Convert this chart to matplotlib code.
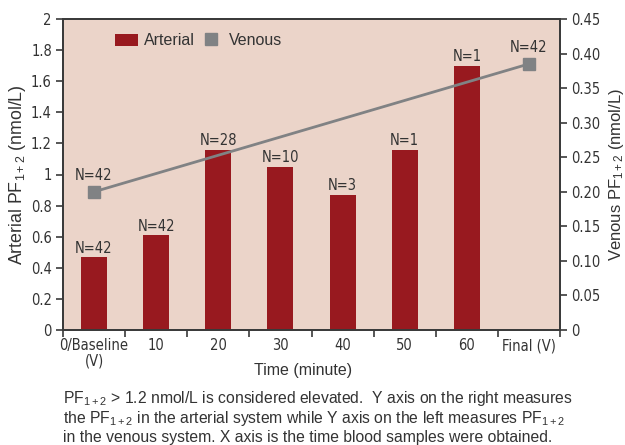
import matplotlib
matplotlib.use("Agg")
import matplotlib.pyplot as plt
from matplotlib.patches import Patch
from matplotlib.lines import Line2D
from matplotlib import font_manager as fm
from matplotlib.font_manager import FontProperties

categories = ["0/Baseline\n(V)", "10", "20", "30", "40", "50", "60", "Final (V)"]
arterial = [0.47, 0.61, 1.16, 1.05, 0.87, 1.16, 1.70, None]
arterial_n = ["N=42", "N=42", "N=28", "N=10", "N=3", "N=1", "N=1", None]
venous_idx = [0, 7]
venous = [0.20, 0.385]
venous_n = ["N=42", "N=42"]
left_ticks = [0, 0.2, 0.4, 0.6, 0.8, 1, 1.2, 1.4, 1.6, 1.8, 2]
left_labels = ["0", "0.2", "0.4", "0.6", "0.8", "1", "1.2", "1.4", "1.6", "1.8", "2"]
right_ticks = [0, 0.05, 0.10, 0.15, 0.20, 0.25, 0.30, 0.35, 0.40, 0.45]
right_labels = ["0", "0.05", "0.10", "0.15", "0.20", "0.25", "0.30", "0.35", "0.40", "0.45"]

# find a condensed / narrow regular font if one is installed
cond_path = None
best = 99
prefs = ["LiberationSansNarrow-Regular", "DejaVuSansCondensed.ttf", "RobotoCondensed-Regular",
         "OpenSans_Condensed-Regular", "OpenSansCondensed", "NotoSans-Condensed.ttf"]
for f in fm.fontManager.ttflist:
    fn = f.fname.split("/")[-1]
    for k, p in enumerate(prefs):
        if p in fn and k < best:
            best = k
            cond_path = f.fname
names = {f.name for f in fm.fontManager.ttflist}
reg = "Liberation Sans" if "Liberation Sans" in names else "DejaVu Sans"
if cond_path is None:
    for f in fm.fontManager.ttflist:
        if f.name == "Roboto" and f.weight in (400, "normal", "regular") and f.style == "normal":
            cond_path = f.fname
            break

def cfp(size):
    if cond_path:
        return FontProperties(fname=cond_path, size=size)
    return FontProperties(family="DejaVu Sans", size=size)

plt.rcParams["font.family"] = [reg, "DejaVu Sans"]
plt.rcParams["mathtext.fontset"] = "custom"
plt.rcParams["mathtext.rm"] = reg
plt.rcParams["mathtext.it"] = reg

BG = "#EBD4C9"
RED = "#98191F"
GRAY = "#808284"
AX = "#3a3a3a"
TXT = "#333333"
TS = 10.5

fig = plt.figure(figsize=(6.25, 4.45), dpi=100)
ax = fig.add_axes([63/625, 1-330/445, 497/625, 311/445])
ax.set_facecolor(BG)
x = list(range(len(categories)))

bx = [i for i, v in enumerate(arterial) if v is not None]
bv = [v for v in arterial if v is not None]
ax.bar(bx, bv, width=0.42, color=RED, zorder=2)
for i, v in zip(bx, bv):
    ax.text(i, v + 0.008, arterial_n[i], ha="center", va="bottom",
            fontproperties=cfp(TS), color=TXT)

ax.set_xlim(-0.5, len(categories) - 0.5)
ax.set_ylim(0, 2)
ax.set_yticks(left_ticks)
ax.set_yticklabels(left_labels, color=TXT)
ax.set_xticks(x)
ax.set_xticklabels(categories, color=TXT, linespacing=1.0)
for lbl in ax.get_yticklabels() + ax.get_xticklabels():
    lbl.set_fontproperties(cfp(TS))
ax.set_xticks([i - 0.5 for i in range(len(categories) + 1)], minor=True)
ax.tick_params(axis="x", which="major", length=0, pad=6)
ax.tick_params(axis="x", which="minor", length=5, width=1.2, color=AX)
ax.tick_params(axis="y", length=5, width=1.2, color=AX, pad=3)
for s in ax.spines.values():
    s.set_color(AX)
    s.set_linewidth(1.3)
ax.set_xlabel("Time (minute)", fontsize=11.5, color=TXT)
ax.xaxis.set_label_coords((303 - 63) / 497, -33 / 311)
ax.set_ylabel("Arterial PF$_{1+2}$ (nmol/L)", fontsize=12.8, color=TXT, labelpad=2)

ax2 = ax.twinx()
ax2.set_ylim(0, 0.45)
ax2.plot(venous_idx, venous, color=GRAY, lw=2, marker="s", markersize=9, zorder=3)
for i, v, n in zip(venous_idx, venous, venous_n):
    ax2.text(i, v + 0.013, n, ha="center", va="bottom", fontproperties=cfp(TS),
             color=TXT)
ax2.set_yticks(right_ticks)
ax2.set_yticklabels(right_labels, color=TXT)
for lbl in ax2.get_yticklabels():
    lbl.set_fontproperties(cfp(TS))
ax2.tick_params(axis="y", length=5, width=1.2, color=AX, pad=3)
for s in ax2.spines.values():
    s.set_color(AX)
    s.set_linewidth(1.3)
ax2.set_ylabel("Venous PF$_{1+2}$ (nmol/L)", fontsize=12, color=TXT, labelpad=5)

handles = [Patch(facecolor=RED, edgecolor="none"),
           Line2D([], [], marker="s", color="none", markerfacecolor=GRAY,
                  markeredgecolor=GRAY, markersize=9)]
ax.legend(handles, ["Arterial", "Venous"], loc="upper left",
          bbox_to_anchor=(0.083, 0.99), ncol=2, frameon=False, fontsize=11.5,
          handlelength=1.4, handleheight=0.8, handletextpad=0.4, columnspacing=0.3,
          labelcolor=TXT, borderaxespad=0.3)

caption = ("PF$_{1+2}$ > 1.2 nmol/L is considered elevated.  Y axis on the right measures\n"
           "the PF$_{1+2}$ in the arterial system while Y axis on the left measures PF$_{1+2}$\n"
           "in the venous system. X axis is the time blood samples were obtained.")
fig.text(63/625, 1-389/445, caption, ha="left", va="top", fontsize=11.3,
         color=TXT, linespacing=1.1)

fig.savefig("out.png", dpi=100)
